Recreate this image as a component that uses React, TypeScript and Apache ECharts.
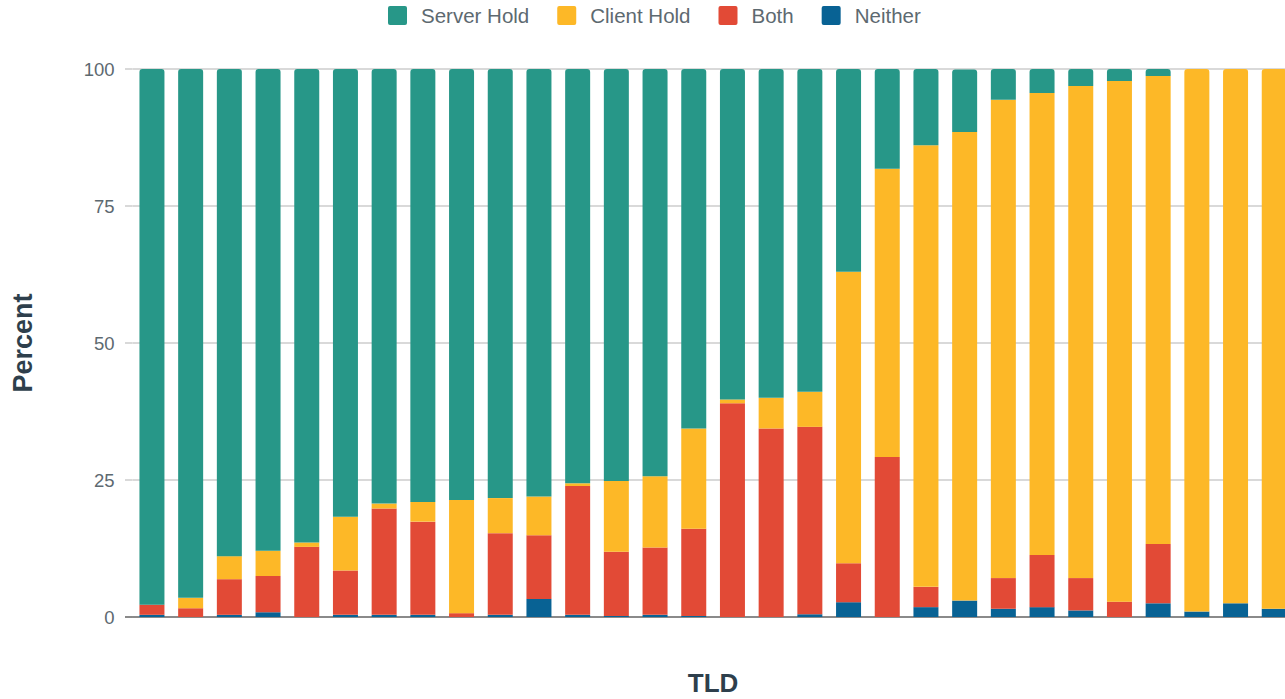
import React, { useEffect, useRef } from "react";
import * as echarts from "echarts";

const categories = [
  "1", "2", "3", "4", "5", "6", "7", "8", "9", "10",
  "11", "12", "13", "14", "15", "16", "17", "18", "19", "20",
  "21", "22", "23", "24", "25", "26", "27", "28", "29", "30",
];

const neither = [0.4, 0, 0.4, 0.85, 0, 0.4, 0.4, 0.4, 0, 0.4, 3.3, 0.4, 0.2, 0.4, 0.2, 0, 0, 0.5, 2.7, 0, 1.8, 3.0, 1.5, 1.8, 1.2, 0, 2.5, 1.0, 2.5, 1.5];
const both = [1.85, 1.6, 6.5, 6.65, 12.8, 8.1, 19.4, 17.0, 0.7, 14.9, 11.6, 23.5, 11.7, 12.3, 15.9, 39.0, 34.4, 34.2, 7.1, 29.2, 3.7, 0, 5.6, 9.5, 5.9, 2.8, 10.8, 0, 0, 0];
const clientHold = [0, 1.9, 4.2, 4.6, 0.8, 9.8, 0.9, 3.6, 20.65, 6.4, 7.1, 0.5, 12.9, 13.0, 18.3, 0.7, 5.6, 6.4, 53.2, 52.6, 80.6, 85.5, 87.3, 84.3, 89.8, 95.0, 85.4, 99.0, 97.5, 98.5];
const serverHold = [97.75, 96.5, 88.9, 87.9, 86.4, 81.7, 79.3, 79.0, 78.65, 78.3, 78.0, 75.6, 75.2, 74.3, 65.6, 60.3, 60.0, 58.9, 37.0, 18.2, 13.9, 11.4, 5.6, 4.4, 3.1, 2.2, 1.3, 0, 0, 0];

const yTicks = [0, 25, 50, 75, 100];

const COLORS = {
  server: "#279788",
  client: "#fdb827",
  both: "#e24a36",
  neither: "#086294",
};

const FONT = "'Liberation Sans', Arial, sans-serif";
const LABEL_COLOR = "#5d6970";
const TITLE_COLOR = "#2e3f4c";

export default function App() {
  const ref = useRef<HTMLDivElement>(null);

  useEffect(() => {
    if (!ref.current) return;
    const chart = echarts.init(ref.current, undefined, { renderer: "svg" });

    // stacking order bottom→top: neither, both, client, server
    const stackOrder = [neither, both, clientHold, serverHold];
    const topIndex = categories.map((_, i) => {
      let t = 0;
      stackOrder.forEach((arr, s) => {
        if (arr[i] > 0) t = s;
      });
      return t;
    });
    const mk = (arr: number[], s: number) =>
      arr.map((v, i) =>
        topIndex[i] === s
          ? { value: v, itemStyle: { borderRadius: [3, 3, 0, 0] } }
          : { value: v }
      );

    const gridLeft = 132.6;
    const gridWidth = 1161;

    chart.setOption({
      animation: false,
      textStyle: { fontFamily: FONT },
      legend: {
        top: 0,
        left: 383,
        itemWidth: 19,
        itemHeight: 19,
        itemGap: 28,
        icon: "path://M2,0 L17,0 Q19,0 19,2 L19,17 Q19,19 17,19 L2,19 Q0,19 0,17 L0,2 Q0,0 2,0 Z",
        data: ["Server Hold", "Client Hold", "Both", "Neither"],
        textStyle: {
          fontFamily: FONT,
          fontSize: 20.5,
          color: LABEL_COLOR,
          padding: [0, 0, 0, 9],
        },
      },
      grid: {
        left: gridLeft,
        top: 69,
        width: gridWidth,
        bottom: 82,
        containLabel: false,
        outerBoundsMode: "none",
      },
      xAxis: {
        type: "category",
        data: categories,
        name: "TLD",
        nameLocation: "middle",
        nameGap: 53,
        nameTextStyle: {
          fontFamily: FONT,
          fontSize: 26,
          fontWeight: "bold",
          color: TITLE_COLOR,
        },
        axisLine: { show: true, lineStyle: { color: "#8a8a8a", width: 2 } },
        axisTick: { show: false },
        axisLabel: { show: false },
        splitLine: { show: false },
      },
      yAxis: {
        type: "value",
        min: 0,
        max: 100,
        interval: 25,
        name: "Percent",
        nameLocation: "middle",
        nameGap: 96,
        nameTextStyle: {
          fontFamily: FONT,
          fontSize: 27,
          fontWeight: "bold",
          color: TITLE_COLOR,
        },
        axisLine: { show: false },
        axisTick: { show: false },
        axisLabel: {
          margin: 18,
          fontFamily: FONT,
          fontSize: 18.5,
          color: LABEL_COLOR,
          formatter: (v: number) => (yTicks.includes(v) ? String(v) : ""),
        },
        splitLine: { show: true, lineStyle: { color: "#d9d9d9", width: 2 } },
      },
      series: [
        {
          name: "Neither",
          type: "bar",
          stack: "total",
          barWidth: 25,
          itemStyle: { color: COLORS.neither },
          data: mk(neither, 0),
        },
        {
          name: "Both",
          type: "bar",
          stack: "total",
          barWidth: 25,
          itemStyle: { color: COLORS.both },
          data: mk(both, 1),
        },
        {
          name: "Client Hold",
          type: "bar",
          stack: "total",
          barWidth: 25,
          itemStyle: { color: COLORS.client },
          data: mk(clientHold, 2),
        },
        {
          name: "Server Hold",
          type: "bar",
          stack: "total",
          barWidth: 25,
          itemStyle: { color: COLORS.server },
          data: mk(serverHold, 3),
        },
      ],
    });

    // extend gridlines slightly to the left of the category band, as in the reference
    const ext = yTicks.map((t) => {
      const y = chart.convertToPixel({ yAxisIndex: 0 }, t) as number;
      return {
        type: "line",
        shape: { x1: 125, y1: y, x2: gridLeft, y2: y },
        style: { stroke: t === 0 ? "#8a8a8a" : "#d9d9d9", lineWidth: 2 },
        z: 0,
      };
    });
    chart.setOption({ graphic: ext });

    return () => chart.dispose();
  }, []);

  return (
    <div
      style={{
        position: "fixed",
        left: 0,
        top: 0,
        width: 1285,
        height: 699,
        overflow: "hidden",
        background: "#fff",
      }}
    >
      <div ref={ref} style={{ width: 1285, height: 699 }} />
    </div>
  );
}
